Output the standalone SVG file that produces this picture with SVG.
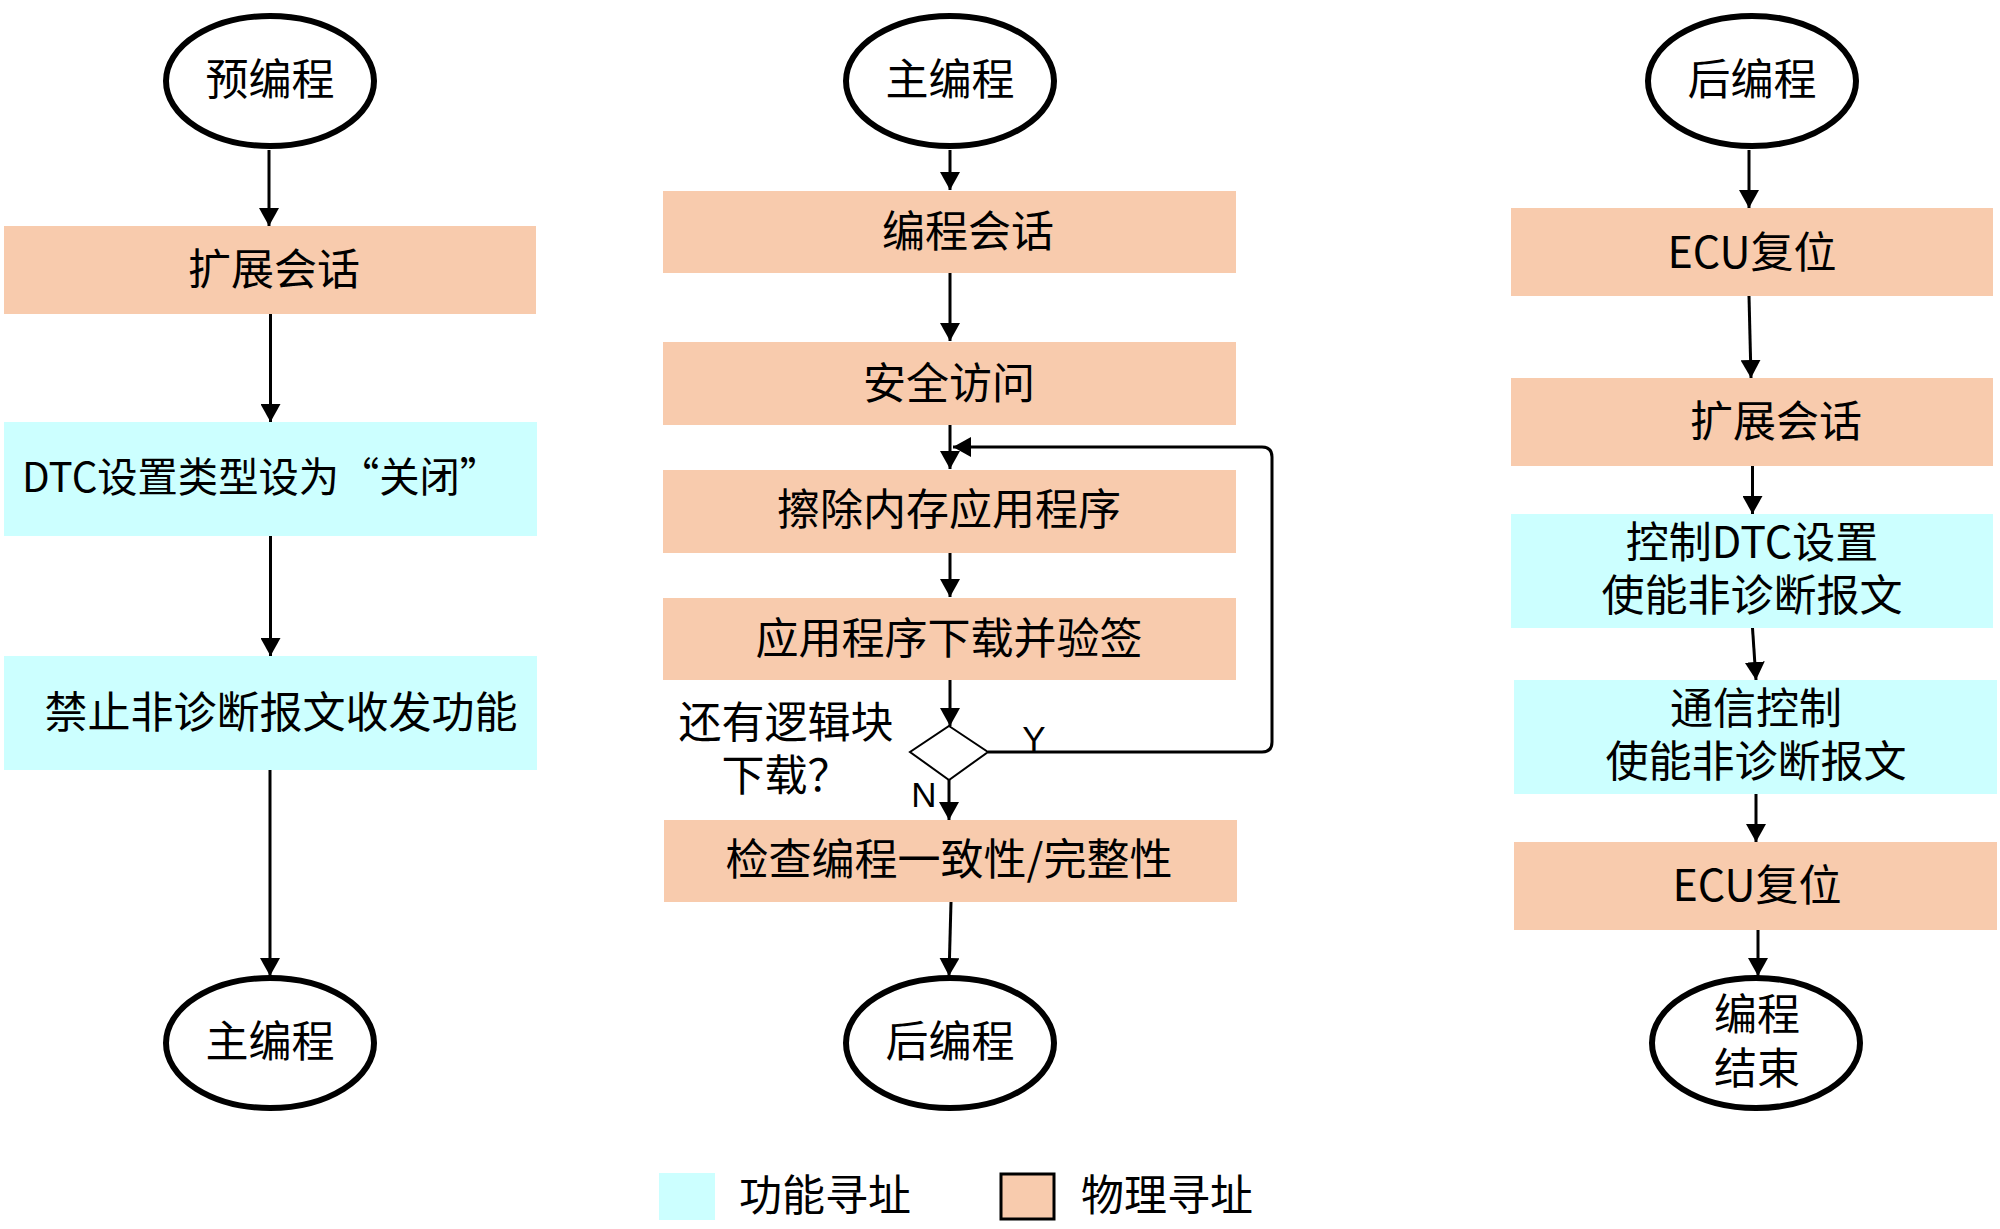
<svg xmlns="http://www.w3.org/2000/svg" width="2000" height="1229" viewBox="0 0 2000 1229">
<defs>
<style>
.phy{fill:#F8CBAD;}
.fun{fill:#CCFFFF;}
.term{fill:#fff;stroke:#000;stroke-width:6;}
.t{font-family:"Noto Sans CJK SC","Noto Sans",sans-serif;font-size:43px;fill:#000;text-anchor:middle;}
.yn{font-family:"Liberation Sans",Arial,sans-serif;font-size:35px;fill:#000;text-anchor:middle;}
.c{fill:none;stroke:#000;stroke-width:3;}
</style>
<marker id="ah" markerWidth="18" markerHeight="20" refX="18" refY="10" orient="auto" markerUnits="userSpaceOnUse" viewBox="0 0 18 20">
<path d="M0,0 L18,10 L0,20 z" fill="#000"/>
</marker>
</defs>
<rect width="2000" height="1229" fill="#fff"/>

<g id="connectors">
<line class="c" x1="269" y1="150" x2="269" y2="226" marker-end="url(#ah)"/>
<line class="c" x1="270.5" y1="314" x2="270.5" y2="422" marker-end="url(#ah)"/>
<line class="c" x1="270.5" y1="536" x2="270.5" y2="656" marker-end="url(#ah)"/>
<line class="c" x1="270" y1="770" x2="270" y2="976" marker-end="url(#ah)"/>
<line class="c" x1="950" y1="150" x2="950" y2="190" marker-end="url(#ah)"/>
<line class="c" x1="950" y1="273" x2="950" y2="341" marker-end="url(#ah)"/>
<line class="c" x1="950" y1="425" x2="950" y2="469" marker-end="url(#ah)"/>
<line class="c" x1="950" y1="553" x2="950" y2="597" marker-end="url(#ah)"/>
<line class="c" x1="950" y1="680" x2="950" y2="726" marker-end="url(#ah)"/>
<line class="c" x1="949" y1="780" x2="949" y2="820" marker-end="url(#ah)"/>
<line class="c" x1="951" y1="902" x2="949" y2="976" marker-end="url(#ah)"/>
<path class="c" d="M988,752 H1262 Q1272,752 1272,742 V457 Q1272,447 1262,447 H953" marker-end="url(#ah)"/>
<line class="c" x1="1749" y1="150" x2="1749" y2="208" marker-end="url(#ah)"/>
<line class="c" x1="1749" y1="296" x2="1751" y2="378" marker-end="url(#ah)"/>
<line class="c" x1="1752.5" y1="466" x2="1752.5" y2="514" marker-end="url(#ah)"/>
<line class="c" x1="1752.5" y1="628" x2="1756" y2="680" marker-end="url(#ah)"/>
<line class="c" x1="1756" y1="794" x2="1756" y2="842" marker-end="url(#ah)"/>
<line class="c" x1="1758" y1="930" x2="1758" y2="976" marker-end="url(#ah)"/>
</g>

<g id="pre-start">
<ellipse class="term" cx="270" cy="81" rx="104" ry="65"/>
<text class="t" x="270" y="95">预编程</text>
</g>
<g id="l-ext-session">
<rect class="phy" x="4" y="226" width="532" height="88"/>
<text class="t" x="274" y="285">扩展会话</text>
</g>
<g id="l-dtc-off">
<rect class="fun" x="4" y="422" width="533" height="114"/>
<text class="t" x="261" y="492" style="font-size:41px" textLength="478" lengthAdjust="spacingAndGlyphs">DTC设置类型设为“关闭”</text>
</g>
<g id="l-disable-comm">
<rect class="fun" x="4" y="656" width="533" height="114"/>
<text class="t" x="281" y="728">禁止非诊断报文收发功能</text>
</g>
<g id="l-main">
<ellipse class="term" cx="270" cy="1043" rx="104" ry="65"/>
<text class="t" x="270" y="1057">主编程</text>
</g>

<g id="m-main">
<ellipse class="term" cx="950" cy="81" rx="104" ry="65"/>
<text class="t" x="950" y="95">主编程</text>
</g>
<g id="m-prog-session">
<rect class="phy" x="663" y="191" width="573" height="82"/>
<text class="t" x="968" y="247">编程会话</text>
</g>
<g id="m-security">
<rect class="phy" x="663" y="342" width="573" height="83"/>
<text class="t" x="949" y="399">安全访问</text>
</g>
<g id="m-erase">
<rect class="phy" x="663" y="470" width="573" height="83"/>
<text class="t" x="949" y="525">擦除内存应用程序</text>
</g>
<g id="m-download">
<rect class="phy" x="663" y="598" width="573" height="82"/>
<text class="t" x="949" y="654">应用程序下载并验签</text>
</g>
<g id="m-decision">
<polygon points="949,726 988,752 949,780 910,752" fill="#fff" stroke="#000" stroke-width="2"/>
<text class="t" x="786" y="738">还有逻辑块</text>
<text class="t" x="786" y="791">下载？</text>
<text class="yn" x="1034" y="751">Y</text>
<text class="yn" x="924" y="807">N</text>
</g>
<g id="m-check">
<rect class="phy" x="664" y="820" width="573" height="82"/>
<text class="t" x="949" y="875">检查编程一致性/完整性</text>
</g>
<g id="m-post">
<ellipse class="term" cx="950" cy="1043" rx="104" ry="65"/>
<text class="t" x="950" y="1057">后编程</text>
</g>

<g id="r-post">
<ellipse class="term" cx="1752" cy="81" rx="104" ry="65"/>
<text class="t" x="1752" y="95">后编程</text>
</g>
<g id="r-ecu-reset1">
<rect class="phy" x="1511" y="208" width="482" height="88"/>
<text class="t" x="1752" y="268">ECU复位</text>
</g>
<g id="r-ext-session">
<rect class="phy" x="1511" y="378" width="482" height="88"/>
<text class="t" x="1776" y="437">扩展会话</text>
</g>
<g id="r-dtc-ctrl">
<rect class="fun" x="1511" y="514" width="482" height="114"/>
<text class="t" x="1752" y="558">控制DTC设置</text>
<text class="t" x="1752" y="611">使能非诊断报文</text>
</g>
<g id="r-comm-ctrl">
<rect class="fun" x="1514" y="680" width="483" height="114"/>
<text class="t" x="1756" y="724">通信控制</text>
<text class="t" x="1756" y="777">使能非诊断报文</text>
</g>
<g id="r-ecu-reset2">
<rect class="phy" x="1514" y="842" width="483" height="88"/>
<text class="t" x="1757" y="901">ECU复位</text>
</g>
<g id="r-end">
<ellipse class="term" cx="1756" cy="1043" rx="104" ry="65"/>
<text class="t" x="1757" y="1030">编程</text>
<text class="t" x="1757" y="1084">结束</text>
</g>

<g id="legend">
<rect class="fun" x="659" y="1173" width="56" height="47"/>
<text class="t" x="825" y="1211">功能寻址</text>
<rect class="phy" x="1001" y="1174" width="53" height="45" stroke="#000" stroke-width="3"/>
<text class="t" x="1167" y="1211">物理寻址</text>
</g>
</svg>
